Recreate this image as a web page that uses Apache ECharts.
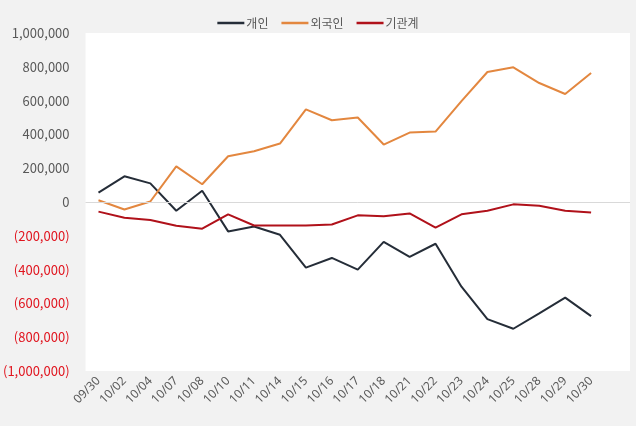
<!DOCTYPE html>
<html>
<head>
<meta charset="utf-8">
<script src="https://cdn.jsdelivr.net/npm/echarts@6/dist/echarts.min.js"></script>
<style>
html,body{margin:0;padding:0;background:#f2f2f2;}
#c{width:636px;height:426px;}
</style>
</head>
<body>
<div id="c"></div>
<script>
const categories = ['09/30','10/02','10/04','10/07','10/08','10/10','10/11','10/14','10/15','10/16','10/17','10/18','10/21','10/22','10/23','10/24','10/25','10/28','10/29','10/30'];
const individual = [55000,152000,110000,-52000,67000,-174000,-145000,-194000,-388000,-331000,-400000,-236000,-325000,-247000,-501000,-693000,-750000,-659000,-566000,-675000];
const foreign = [10000,-44000,3000,211000,105000,271000,300000,346000,548000,484000,500000,340000,411000,417000,597000,769000,797000,704000,639000,763000];
const institution = [-57000,-93000,-107000,-141000,-158000,-73000,-139000,-139000,-139000,-133000,-79000,-85000,-68000,-151000,-73000,-52000,-14000,-22000,-52000,-62000];
const seriesNames = ['개인','외국인','기관계'];

const chart = echarts.init(document.getElementById('c'), null, {renderer:'canvas'});
const fmt = v => Math.abs(v).toLocaleString('en-US');
const font = '"Noto Sans CJK KR", "Noto Sans", sans-serif';
chart.setOption({
  backgroundColor: '#f2f2f2',
  animation: false,
  legend: {
    top: 12, left: 'center',
    icon: 'rect', itemWidth: 27, itemHeight: 2.5, itemGap: 13,
    textStyle: {color:'#595959', fontSize: 12, fontFamily: font, padding:[0,0,0,-3]},
    data: seriesNames
  },
  grid: {left: 85, right: 6, top: 33, bottom: 55, show: true, backgroundColor: '#ffffff', borderWidth: 0},
  xAxis: {
    type: 'category', data: categories, max: 20, boundaryGap: true,
    axisLine: {show:false}, axisTick: {show:false},
    axisLabel: {rotate: 45, fontSize: 12, color:'#595959', margin: 8, interval: 0, fontFamily: '"Noto Sans", sans-serif'}
  },
  yAxis: {
    type: 'value', min: -1000000, max: 1000000, interval: 200000,
    axisLine: {show:false}, axisTick: {show:false}, splitLine: {show:false},
    axisLabel: {
      fontSize: 13, margin: 16, fontFamily: font,
      color: v => (v < 0 ? '#e0141e' : '#595959'),
      formatter: v => (v < 0 ? '(' + fmt(v) + ')' : fmt(v))
    }
  },
  series: [
    {name: seriesNames[0], type:'line', data: individual, symbol:'none', lineStyle:{width:2, color:'#252d38'}, itemStyle:{color:'#252d38'},
     markLine:{silent:true, symbol:'none', label:{show:false}, lineStyle:{color:'#d9d9d9', width:1, type:'solid'}, data:[{yAxis:0}]}},
    {name: seriesNames[1], type:'line', data: foreign, symbol:'none', lineStyle:{width:2, color:'#e3873f'}, itemStyle:{color:'#e3873f'}},
    {name: seriesNames[2], type:'line', data: institution, symbol:'none', lineStyle:{width:2, color:'#b0111a'}, itemStyle:{color:'#b0111a'}}
  ]
});
</script>
</body>
</html>
